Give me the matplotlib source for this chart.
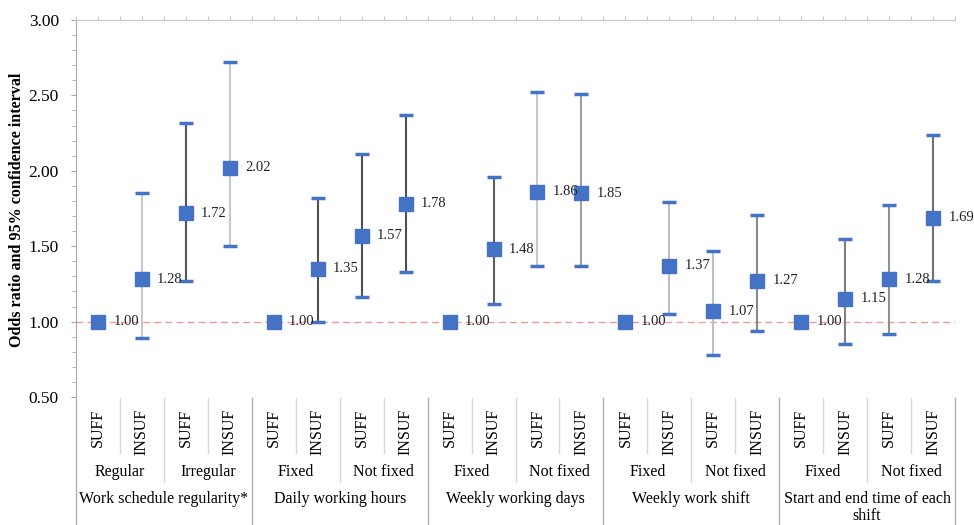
import numpy as np
import matplotlib.pyplot as plt

plt.rcParams['font.family'] = ['Liberation Serif', 'DejaVu Serif']

# data
levels = ['SUFF', 'INSUF'] * 10
subgroups = ['Regular', 'Irregular', 'Fixed', 'Not fixed', 'Fixed', 'Not fixed',
             'Fixed', 'Not fixed', 'Fixed', 'Not fixed']
groups = ['Work schedule regularity*', 'Daily working hours', 'Weekly working days',
          'Weekly work shift', 'Start and end time of each\nshift']

nan = np.nan
odds = [1.00, 1.28, 1.72, 2.02, 1.00, 1.35, 1.57, 1.78, 1.00, 1.48,
        1.86, 1.85, 1.00, 1.37, 1.07, 1.27, 1.00, 1.15, 1.28, 1.69]
ci_low = [nan, 0.89, 1.27, 1.50, nan, 1.00, 1.16, 1.33, nan, 1.12,
          1.37, 1.37, nan, 1.05, 0.78, 0.94, nan, 0.85, 0.92, 1.27]
ci_high = [nan, 1.85, 2.32, 2.72, nan, 1.82, 2.11, 2.37, nan, 1.96,
           2.52, 2.51, nan, 1.79, 1.47, 1.71, nan, 1.55, 1.77, 2.24]

# whisker line shades (Excel style variation)
err_colors = ['#c8c8c8', '#c8c8c8', '#555555', '#c8c8c8', '#c8c8c8', '#505050', '#505050', '#505050',
              '#c8c8c8', '#606060', '#c8c8c8', '#a0a0a0', '#c8c8c8', '#c0c0c0', '#c0c0c0', '#8a8a8a',
              '#c8c8c8', '#808080', '#909090', '#707070']

blue = '#4472C4'
x = np.arange(len(odds))

fig = plt.figure(figsize=(9.74, 5.25), dpi=100)
ax = fig.add_axes([76 / 974, 1 - 397 / 525, (955 - 76) / 974, 377 / 525])

# 95% CI whiskers
lo = np.array(ci_low)
hi = np.array(ci_high)
has_ci = ~np.isnan(lo)
ax.vlines(x[has_ci], lo[has_ci], hi[has_ci], colors=[c for c, h in zip(err_colors, has_ci) if h],
          linewidth=1.5, zorder=2)
ax.plot(x[has_ci], lo[has_ci], ls='none', marker='_', ms=10, mew=2.5, color=blue, zorder=3)
ax.plot(x[has_ci], hi[has_ci], ls='none', marker='_', ms=10, mew=2.5, color=blue, zorder=3)

# reference line
ax.axhline(1.0, color='#f08080', lw=1, ls=(0, (5, 3)), alpha=0.8, zorder=1)

ax.plot(x, odds, ls='none', marker='s', ms=9.5, color=blue, zorder=4)
for xi, v in zip(x, odds):
    ax.annotate(f'{v:.2f}', (xi, v), xytext=(11, 0), textcoords='offset points',
                ha='left', va='center', fontsize=10.5, color='#222222', zorder=5)

ax.set_ylim(0.5, 3.0)
ax.set_xlim(-0.5, len(odds) - 0.5)
ax.set_yticks(np.arange(0.5, 3.01, 0.5))
ax.set_yticks(np.arange(0.5, 3.01, 0.1), minor=True)
ax.set_yticklabels([f'{t:.2f}' for t in np.arange(0.5, 3.01, 0.5)], fontsize=12.5)
ax.tick_params(axis='y', which='major', length=3.8, color='#a6a6a6', pad=8.5)
ax.tick_params(axis='y', which='minor', length=2.8, color='#a6a6a6')
fig.text(17 / 974, 1 - 210 / 525, 'Odds ratio and 95% confidence interval', rotation=90,
         ha='center', va='center', fontsize=11.6, fontweight='bold')

ax.set_xticks(np.arange(-0.5, len(odds), 0.5))
ax.set_xticklabels([])
ax.tick_params(axis='x', bottom=False, top=True, direction='out', length=3, color='#c8c8c8')

for s in ['right', 'bottom']:
    ax.spines[s].set_visible(False)
ax.spines['left'].set_color('#a6a6a6')
ax.spines['top'].set_color('#c8c8c8')

# multi-level category axis below the plot
tr = ax.get_xaxis_transform()


def fy(py):
    return (397 - py) / 377


for xi, lab in zip(x, levels):
    ax.text(xi, fy(409), lab, rotation=90, ha='center', va='top', fontsize=11.5,
            transform=tr, clip_on=False)
for k, lab in enumerate(subgroups):
    ax.text(2 * k + 0.5, fy(472), lab, ha='center', va='center', fontsize=11.5,
            transform=tr, clip_on=False)
for k, lab in enumerate(groups):
    ax.text(4 * k + 1.5, fy(491), lab, ha='center', va='top', fontsize=11.5,
            transform=tr, clip_on=False, linespacing=1.05)

for k in range(len(subgroups)):
    ax.plot([2 * k + 0.5] * 2, [fy(398), fy(453)], color='#d9d9d9', lw=1, transform=tr, clip_on=False)
for k in range(len(groups)):
    ax.plot([4 * k + 1.5] * 2, [fy(398), fy(482)], color='#d9d9d9', lw=1, transform=tr, clip_on=False)
for k in range(len(groups) + 1):
    ax.plot([4 * k - 0.5] * 2, [fy(398), fy(525)], color='#b0b0b0', lw=1, transform=tr, clip_on=False)

fig.savefig('out.png', dpi=100)
